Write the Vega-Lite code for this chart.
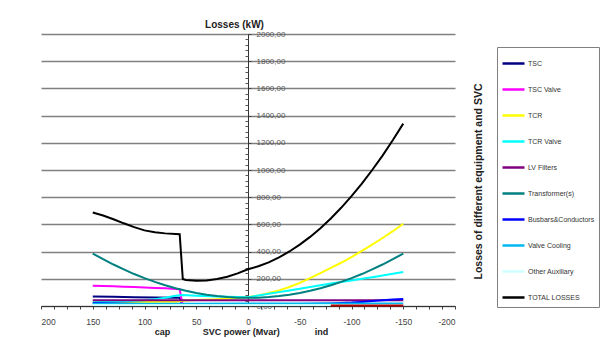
{
  "$schema": "https://vega.github.io/schema/vega-lite/v6.json",
  "width": 414,
  "height": 272,
  "autosize": {"type": "none"},
  "padding": {"left": 41, "top": 34, "right": 146, "bottom": 32},
  "background": "white",
  "config": {
    "view": {"stroke": null},
    "font": "Liberation Sans"
  },
  "datasets": {
    "losses": [
      {"series": "TSC", "x": 150, "loss": 70}, {"series": "TSC", "x": 130, "loss": 68}, {"series": "TSC", "x": 110, "loss": 65}, {"series": "TSC", "x": 90, "loss": 62}, {"series": "TSC", "x": 70, "loss": 60}, {"series": "TSC", "x": 66, "loss": 60}, {"series": "TSC", "x": 63, "loss": 0},
      {"series": "TSC Valve", "x": 150, "loss": 149}, {"series": "TSC Valve", "x": 140, "loss": 147}, {"series": "TSC Valve", "x": 130, "loss": 145}, {"series": "TSC Valve", "x": 120, "loss": 142}, {"series": "TSC Valve", "x": 110, "loss": 139}, {"series": "TSC Valve", "x": 100, "loss": 136}, {"series": "TSC Valve", "x": 90, "loss": 133}, {"series": "TSC Valve", "x": 80, "loss": 130}, {"series": "TSC Valve", "x": 70, "loss": 125}, {"series": "TSC Valve", "x": 66, "loss": 123}, {"series": "TSC Valve", "x": 63, "loss": 0},
      {"series": "TCR", "x": 150, "loss": 30}, {"series": "TCR", "x": 120, "loss": 30}, {"series": "TCR", "x": 90, "loss": 31}, {"series": "TCR", "x": 70, "loss": 32}, {"series": "TCR", "x": 63, "loss": 38}, {"series": "TCR", "x": 50, "loss": 44}, {"series": "TCR", "x": 30, "loss": 50}, {"series": "TCR", "x": 10, "loss": 58}, {"series": "TCR", "x": 0, "loss": 65}, {"series": "TCR", "x": -10, "loss": 78}, {"series": "TCR", "x": -20, "loss": 95}, {"series": "TCR", "x": -30, "loss": 115}, {"series": "TCR", "x": -40, "loss": 140}, {"series": "TCR", "x": -50, "loss": 170}, {"series": "TCR", "x": -60, "loss": 205}, {"series": "TCR", "x": -70, "loss": 242}, {"series": "TCR", "x": -80, "loss": 280}, {"series": "TCR", "x": -90, "loss": 318}, {"series": "TCR", "x": -100, "loss": 360}, {"series": "TCR", "x": -110, "loss": 405}, {"series": "TCR", "x": -120, "loss": 452}, {"series": "TCR", "x": -130, "loss": 500}, {"series": "TCR", "x": -140, "loss": 550}, {"series": "TCR", "x": -150, "loss": 605},
      {"series": "TCR Valve", "x": 150, "loss": 28}, {"series": "TCR Valve", "x": 120, "loss": 35}, {"series": "TCR Valve", "x": 100, "loss": 42}, {"series": "TCR Valve", "x": 90, "loss": 50}, {"series": "TCR Valve", "x": 80, "loss": 60}, {"series": "TCR Valve", "x": 70, "loss": 75}, {"series": "TCR Valve", "x": 63, "loss": 80}, {"series": "TCR Valve", "x": 50, "loss": 75}, {"series": "TCR Valve", "x": 30, "loss": 70}, {"series": "TCR Valve", "x": 10, "loss": 66}, {"series": "TCR Valve", "x": 0, "loss": 65}, {"series": "TCR Valve", "x": -10, "loss": 77}, {"series": "TCR Valve", "x": -20, "loss": 90}, {"series": "TCR Valve", "x": -30, "loss": 102}, {"series": "TCR Valve", "x": -40, "loss": 114}, {"series": "TCR Valve", "x": -50, "loss": 127}, {"series": "TCR Valve", "x": -60, "loss": 140}, {"series": "TCR Valve", "x": -70, "loss": 152}, {"series": "TCR Valve", "x": -80, "loss": 165}, {"series": "TCR Valve", "x": -90, "loss": 177}, {"series": "TCR Valve", "x": -100, "loss": 188}, {"series": "TCR Valve", "x": -110, "loss": 200}, {"series": "TCR Valve", "x": -120, "loss": 212}, {"series": "TCR Valve", "x": -130, "loss": 225}, {"series": "TCR Valve", "x": -140, "loss": 237}, {"series": "TCR Valve", "x": -150, "loss": 250},
      {"series": "LV Filters", "x": 150, "loss": 42}, {"series": "LV Filters", "x": 100, "loss": 42}, {"series": "LV Filters", "x": 50, "loss": 42}, {"series": "LV Filters", "x": 0, "loss": 42}, {"series": "LV Filters", "x": -50, "loss": 42}, {"series": "LV Filters", "x": -100, "loss": 42}, {"series": "LV Filters", "x": -150, "loss": 42},
      {"series": "Transformer(s)", "x": 150, "loss": 386}, {"series": "Transformer(s)", "x": 140, "loss": 344}, {"series": "Transformer(s)", "x": 130, "loss": 305}, {"series": "Transformer(s)", "x": 120, "loss": 269}, {"series": "Transformer(s)", "x": 110, "loss": 235}, {"series": "Transformer(s)", "x": 100, "loss": 205}, {"series": "Transformer(s)", "x": 90, "loss": 177}, {"series": "Transformer(s)", "x": 80, "loss": 153}, {"series": "Transformer(s)", "x": 70, "loss": 131}, {"series": "Transformer(s)", "x": 60, "loss": 112}, {"series": "Transformer(s)", "x": 50, "loss": 96}, {"series": "Transformer(s)", "x": 40, "loss": 83}, {"series": "Transformer(s)", "x": 30, "loss": 73}, {"series": "Transformer(s)", "x": 20, "loss": 66}, {"series": "Transformer(s)", "x": 10, "loss": 61}, {"series": "Transformer(s)", "x": 0, "loss": 60}, {"series": "Transformer(s)", "x": -10, "loss": 61}, {"series": "Transformer(s)", "x": -20, "loss": 66}, {"series": "Transformer(s)", "x": -30, "loss": 73}, {"series": "Transformer(s)", "x": -40, "loss": 83}, {"series": "Transformer(s)", "x": -50, "loss": 96}, {"series": "Transformer(s)", "x": -60, "loss": 112}, {"series": "Transformer(s)", "x": -70, "loss": 131}, {"series": "Transformer(s)", "x": -80, "loss": 153}, {"series": "Transformer(s)", "x": -90, "loss": 177}, {"series": "Transformer(s)", "x": -100, "loss": 205}, {"series": "Transformer(s)", "x": -110, "loss": 235}, {"series": "Transformer(s)", "x": -120, "loss": 269}, {"series": "Transformer(s)", "x": -130, "loss": 305}, {"series": "Transformer(s)", "x": -140, "loss": 344}, {"series": "Transformer(s)", "x": -150, "loss": 386},
      {"series": "Busbars&Conductors", "x": 150, "loss": 22}, {"series": "Busbars&Conductors", "x": 100, "loss": 15}, {"series": "Busbars&Conductors", "x": 50, "loss": 11}, {"series": "Busbars&Conductors", "x": 0, "loss": 10}, {"series": "Busbars&Conductors", "x": -50, "loss": 14}, {"series": "Busbars&Conductors", "x": -80, "loss": 19}, {"series": "Busbars&Conductors", "x": -90, "loss": 22}, {"series": "Busbars&Conductors", "x": -100, "loss": 25}, {"series": "Busbars&Conductors", "x": -110, "loss": 30}, {"series": "Busbars&Conductors", "x": -120, "loss": 36}, {"series": "Busbars&Conductors", "x": -130, "loss": 42}, {"series": "Busbars&Conductors", "x": -140, "loss": 48}, {"series": "Busbars&Conductors", "x": -150, "loss": 52},
      {"series": "Valve Cooling", "x": 150, "loss": 16}, {"series": "Valve Cooling", "x": 100, "loss": 16}, {"series": "Valve Cooling", "x": 50, "loss": 17}, {"series": "Valve Cooling", "x": 0, "loss": 18}, {"series": "Valve Cooling", "x": -50, "loss": 18}, {"series": "Valve Cooling", "x": -100, "loss": 18}, {"series": "Valve Cooling", "x": -150, "loss": 18},
      {"series": "Other Auxiliary", "x": 150, "loss": 8}, {"series": "Other Auxiliary", "x": 0, "loss": 8}, {"series": "Other Auxiliary", "x": -150, "loss": 8},
      {"series": "TOTAL LOSSES", "x": 150, "loss": 688}, {"series": "TOTAL LOSSES", "x": 140, "loss": 665}, {"series": "TOTAL LOSSES", "x": 130, "loss": 638}, {"series": "TOTAL LOSSES", "x": 120, "loss": 608}, {"series": "TOTAL LOSSES", "x": 110, "loss": 580}, {"series": "TOTAL LOSSES", "x": 100, "loss": 556}, {"series": "TOTAL LOSSES", "x": 90, "loss": 542}, {"series": "TOTAL LOSSES", "x": 80, "loss": 534}, {"series": "TOTAL LOSSES", "x": 70, "loss": 530}, {"series": "TOTAL LOSSES", "x": 66, "loss": 528}, {"series": "TOTAL LOSSES", "x": 63, "loss": 198}, {"series": "TOTAL LOSSES", "x": 60, "loss": 192}, {"series": "TOTAL LOSSES", "x": 50, "loss": 185}, {"series": "TOTAL LOSSES", "x": 40, "loss": 188}, {"series": "TOTAL LOSSES", "x": 30, "loss": 198}, {"series": "TOTAL LOSSES", "x": 20, "loss": 215}, {"series": "TOTAL LOSSES", "x": 10, "loss": 240}, {"series": "TOTAL LOSSES", "x": 0, "loss": 270}, {"series": "TOTAL LOSSES", "x": -10, "loss": 292}, {"series": "TOTAL LOSSES", "x": -20, "loss": 321}, {"series": "TOTAL LOSSES", "x": -30, "loss": 357}, {"series": "TOTAL LOSSES", "x": -40, "loss": 401}, {"series": "TOTAL LOSSES", "x": -50, "loss": 451}, {"series": "TOTAL LOSSES", "x": -60, "loss": 508}, {"series": "TOTAL LOSSES", "x": -70, "loss": 572}, {"series": "TOTAL LOSSES", "x": -80, "loss": 644}, {"series": "TOTAL LOSSES", "x": -90, "loss": 722}, {"series": "TOTAL LOSSES", "x": -100, "loss": 808}, {"series": "TOTAL LOSSES", "x": -110, "loss": 900}, {"series": "TOTAL LOSSES", "x": -120, "loss": 1000}, {"series": "TOTAL LOSSES", "x": -130, "loss": 1106}, {"series": "TOTAL LOSSES", "x": -140, "loss": 1220}, {"series": "TOTAL LOSSES", "x": -150, "loss": 1341}
    ],
    "extra": [
      {"x": -80, "loss": 4}, {"x": -150, "loss": 4}
    ]
  },
  "encoding": {
    "x": {
      "field": "x", "type": "quantitative",
      "scale": {"domain": [-200, 200], "reverse": true, "nice": false, "zero": false},
      "axis": {
        "orient": "bottom",
        "values": [200, 187.5, 175, 162.5, 150, 137.5, 125, 112.5, 100, 87.5, 75, 62.5, 50, 37.5, 25, 12.5, 0, -12.5, -25, -37.5, -50, -62.5, -75, -87.5, -100, -112.5, -125, -137.5, -150, -162.5, -175, -187.5, -200],
        "labelExpr": "datum.value % 50 == 0 ? '' + datum.value : ''",
        "labelOverlap": false,
        "grid": false,
        "tickSize": 3,
        "tickColor": "#444",
        "domainColor": "#333",
        "labelFontSize": 8.5,
        "labelColor": "#444",
        "labelPadding": 8,
        "title": "cap\u00a0\u00a0\u00a0\u00a0\u00a0\u00a0\u00a0\u00a0\u00a0\u00a0\u00a0\u00a0\u00a0SVC power (Mvar)\u00a0\u00a0\u00a0\u00a0\u00a0\u00a0\u00a0\u00a0\u00a0\u00a0\u00a0\u00a0\u00a0\u00a0ind",
        "titleFontSize": 9,
        "titleFontWeight": "bold",
        "titleColor": "#222",
        "titleX": 200,
        "titleY": 21,
        "titleAlign": "center",
        "titleBaseline": "top"
      }
    }
  },
  "layer": [
    {
      "data": {"name": "losses"},
      "transform": [{"filter": "datum.series != 'TOTAL LOSSES'"}],
      "mark": {"type": "line", "strokeWidth": 2},
      "encoding": {
        "y": {
          "field": "loss", "type": "quantitative",
          "scale": {"domain": [0, 2000], "nice": false},
          "axis": {
            "orient": "right",
            "offset": -207,
            "values": [0, 200, 400, 600, 800, 1000, 1200, 1400, 1600, 1800, 2000],
            "labelExpr": "replace(format(datum.value, '.2f'), '.', ',')",
            "grid": true,
            "gridColor": "#808080",
            "gridWidth": 1.6,
            "tickSize": 3,
            "tickColor": "#444",
            "domainColor": "#333",
            "labelFontSize": 8,
            "labelColor": "#555",
            "labelPadding": 5,
            "title": "Losses (kW)",
            "titleAngle": 0,
            "titleX": -14,
            "titleY": -7,
            "titleAlign": "center",
            "titleBaseline": "alphabetic",
            "titleFontSize": 10,
            "titleFontWeight": "bold",
            "titleColor": "#222"
          }
        },
        "color": {
          "field": "series", "type": "nominal",
          "scale": {
            "domain": ["TSC", "TSC Valve", "TCR", "TCR Valve", "LV Filters", "Transformer(s)", "Busbars&Conductors", "Valve Cooling", "Other Auxiliary", "TOTAL LOSSES"],
            "range": ["#000080", "#FF00FF", "#FFFF00", "#00FFFF", "#800080", "#008080", "#0000FF", "#00B8F0", "#CCFFFF", "#000000"]
          },
          "legend": {
            "orient": "none",
            "legendX": 456,
            "legendY": 13,
            "direction": "vertical",
            "title": null,
            "symbolType": "stroke",
            "symbolSize": 484,
            "symbolStrokeWidth": 2.5,
            "labelFontSize": 7,
            "labelColor": "#333",
            "labelOffset": 2,
            "labelLimit": 200,
            "strokeColor": "#808080",
            "fillColor": "white",
            "padding": 4,
            "rowPadding": 8
          }
        }
      }
    },
    {
      "data": {"name": "extra"},
      "mark": {"type": "line", "strokeWidth": 2, "color": "#B00000"},
      "encoding": {
        "y": {
          "field": "loss", "type": "quantitative",
          "axis": {
            "orient": "right",
            "offset": 0,
            "labels": false,
            "ticks": false,
            "domain": false,
            "grid": false,
            "title": "Losses of different equipment and SVC",
            "titleAngle": 270,
            "titleX": 23,
            "titleY": 147,
            "titleAlign": "center",
            "titleBaseline": "middle",
            "titleFontSize": 10.5,
            "titleFontWeight": "bold",
            "titleColor": "#222"
          }
        }
      }
    },
    {
      "data": {"name": "losses"},
      "transform": [{"filter": "datum.series == 'TOTAL LOSSES'"}],
      "mark": {"type": "line", "strokeWidth": 2, "color": "#000000"},
      "encoding": {
        "y": {
          "field": "loss", "type": "quantitative",
          "axis": {
            "orient": "left",
            "offset": -207,
            "values": [40, 80, 120, 160, 240, 280, 320, 360, 440, 480, 520, 560, 640, 680, 720, 760, 840, 880, 920, 960, 1040, 1080, 1120, 1160, 1240, 1280, 1320, 1360, 1440, 1480, 1520, 1560, 1640, 1680, 1720, 1760, 1840, 1880, 1920, 1960],
            "labels": false,
            "domain": false,
            "grid": false,
            "ticks": true,
            "tickSize": 3,
            "tickColor": "#555",
            "title": null
          }
        }
      }
    }
  ],
  "resolve": {"axis": {"y": "independent"}}
}
